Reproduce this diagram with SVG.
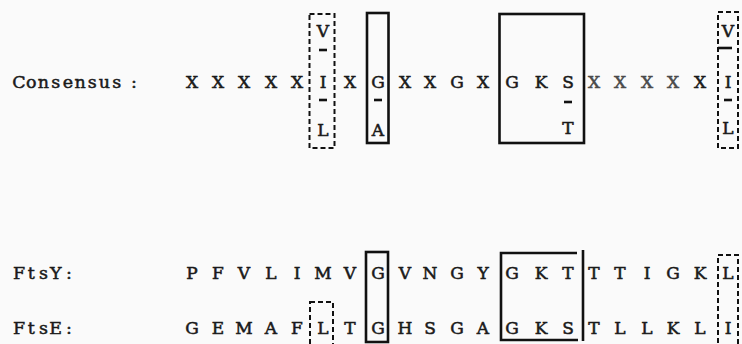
<svg xmlns="http://www.w3.org/2000/svg" width="742" height="344" viewBox="0 0 742 344">
<style>
  text { font-family: "DejaVu Serif", "Liberation Serif", serif; font-size: 17px; fill: #1a1a1a; stroke: #1a1a1a; stroke-width: 0.55; text-anchor: middle; }
  .lbl { font-size: 17.5px; stroke-width: 0.5; }
  .faint { fill: #4a4a4a; stroke: #4a4a4a; }
  .solid { fill: none; stroke: #111; stroke-width: 2.6; }
  .dashed { fill: none; stroke: #111; stroke-width: 2; stroke-dasharray: 5 3; }
  .bar { stroke: #111; stroke-width: 2.6; }
</style>
<rect width="742" height="344" fill="#fafafa"/>

<g id="label-consensus"><text class="lbl" x="19 31.3 43.5 55.7 67.9 80.1 92.3 104.5 116.7 134" y="88">Consensus:</text></g>
<g id="label-ftsy"><text class="lbl" x="19 31.3 43.5 55.7 69" y="279">FtsY:</text></g>
<g id="label-ftse"><text class="lbl" x="19 31.3 43.5 55.7 69" y="334">FtsE:</text></g>

<g id="consensus-seq">
  <text x="192" y="88">X</text><text x="218" y="88">X</text><text x="244" y="88">X</text><text x="271" y="88">X</text><text x="297" y="88">X</text>
  <text x="323" y="88">I</text><text x="350" y="88">X</text><text x="378" y="88">G</text>
  <text x="405" y="88">X</text><text x="430" y="88">X</text><text x="457" y="88">G</text><text x="483" y="88">X</text>
  <text x="512" y="88">G</text><text x="541" y="88">K</text><text x="568" y="88">S</text>
  <text class="faint" x="594" y="88">X</text><text class="faint" x="620" y="88">X</text><text class="faint" x="647" y="88">X</text><text class="faint" x="673" y="88">X</text><text x="700" y="88">X</text>
  <text x="728" y="88">I</text>
  <text x="323" y="37">V</text><text x="728" y="37">V</text>
  <text x="323" y="136">L</text><text x="378" y="136">A</text><text x="568" y="134">T</text><text x="728" y="134">L</text>
</g>
<g id="consensus-bars">
  <line class="bar" x1="319" y1="50" x2="327" y2="50"/>
  <line class="bar" x1="718" y1="48" x2="732" y2="48"/>
  <line class="bar" x1="319" y1="100" x2="327" y2="100"/>
  <line class="bar" x1="374" y1="100" x2="382" y2="100"/>
  <line class="bar" x1="564" y1="102" x2="572" y2="102"/>
  <line class="bar" x1="724" y1="100" x2="732" y2="100"/>
</g>
<g id="consensus-box-ivl-1"><rect class="dashed" x="309.5" y="14" width="25" height="134"/></g>
<g id="consensus-box-ga"><rect class="solid" x="367" y="13" width="21.5" height="130"/></g>
<g id="consensus-box-gks"><rect class="solid" x="499.5" y="14" width="84.5" height="129"/></g>
<g id="consensus-box-ivl-2"><rect class="dashed" x="718" y="12" width="20" height="136"/></g>

<g id="ftsy-seq">
  <text x="192" y="279">P</text><text x="218" y="279">F</text><text x="244" y="279">V</text><text x="271" y="279">L</text><text x="297" y="279">I</text>
  <text x="323" y="279">M</text><text x="350" y="279">V</text><text x="378" y="279">G</text>
  <text x="405" y="279">V</text><text x="430" y="279">N</text><text x="457" y="279">G</text><text x="483" y="279">Y</text>
  <text x="512" y="279">G</text><text x="541" y="279">K</text><text x="568" y="279">T</text>
  <text x="594" y="279">T</text><text x="620" y="279">T</text><text x="647" y="279">I</text><text x="673" y="279">G</text><text x="700" y="279">K</text>
  <text x="728" y="279">L</text>
</g>
<g id="ftse-seq">
  <text x="192" y="334">G</text><text x="218" y="334">E</text><text x="244" y="334">M</text><text x="271" y="334">A</text><text x="297" y="334">F</text>
  <text x="323" y="334">L</text><text x="350" y="334">T</text><text x="378" y="334">G</text>
  <text x="405" y="334">H</text><text x="430" y="334">S</text><text x="457" y="334">G</text><text x="483" y="334">A</text>
  <text x="512" y="334">G</text><text x="541" y="334">K</text><text x="568" y="334">S</text>
  <text x="594" y="334">T</text><text x="620" y="334">L</text><text x="647" y="334">L</text><text x="673" y="334">K</text><text x="700" y="334">L</text>
  <text x="728" y="334">I</text>
</g>
<g id="align-box-g"><rect class="solid" x="366" y="252" width="22" height="90"/></g>
<g id="align-box-gk"><path class="solid" d="M577,253 H501 V340 H578"/><line class="solid" x1="583" y1="250" x2="583" y2="341"/></g>
<g id="align-box-l"><rect class="dashed" x="310" y="302" width="23" height="50"/></g>
<g id="align-box-li"><rect class="dashed" x="718" y="255" width="20" height="96"/></g>
</svg>
